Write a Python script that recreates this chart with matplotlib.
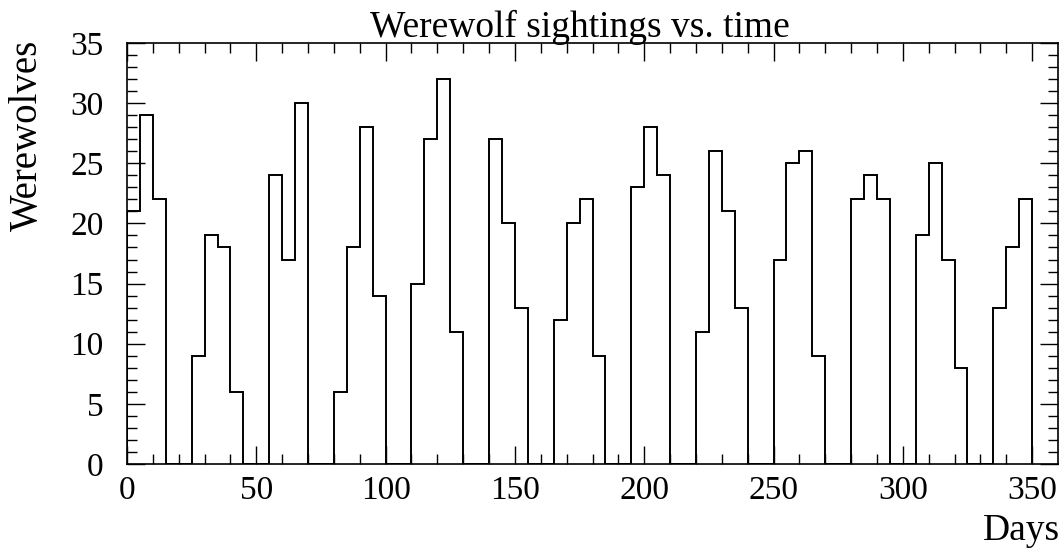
import matplotlib
matplotlib.use("Agg")
import matplotlib.pyplot as plt
import numpy as np

# Bin starts (days) and counts per 5-day bin
bin_width = 5
bin_starts = np.arange(0, 350, bin_width)
sightings = [21, 29, 22, 0, 0, 9, 19, 18, 6, 0,
             0, 24, 17, 30, 0, 0, 6, 18, 28, 14,
             0, 0, 15, 27, 32, 11, 0, 0, 27, 20,
             13, 0, 0, 12, 20, 22, 9, 0, 0, 23,
             28, 24, 0, 0, 11, 26, 21, 13, 0, 0,
             17, 25, 26, 9, 0, 0, 22, 24, 22, 0,
             0, 19, 25, 17, 8, 0, 0, 13, 18, 22]

plt.rcParams['font.family'] = ['Liberation Serif', 'DejaVu Serif']

fig = plt.figure(figsize=(10.63, 5.48), dpi=100)
ax = fig.add_axes([127 / 1063, 1 - 464 / 548, (1058 - 127) / 1063, (464 - 43) / 548])

edges = np.append(bin_starts, bin_starts[-1] + bin_width)
ax.stairs(sightings, edges, color='black', linewidth=1.4, baseline=0)

ax.set_xlim(0, 360)
ax.set_ylim(0, 35)
ax.set_xticks(np.arange(0, 351, 50))
ax.set_xticks(np.arange(0, 360, 10), minor=True)
ax.set_yticks(np.arange(0, 36, 5))
ax.set_yticks(np.arange(0, 36, 1), minor=True)

ax.tick_params(which='both', direction='in', top=True, right=True,
               labelsize=24, width=1, color='black')
ax.tick_params(which='major', length=13)
ax.tick_params(which='minor', length=7)
ax.tick_params(axis='x', which='major', pad=8)
ax.tick_params(axis='y', which='major', pad=17)
for s in ax.spines.values():
    s.set_linewidth(1.2)

# title sits a bit left of the axes centre in the original
fig.text(580 / 1063, 1 - 37 / 548, 'Werewolf sightings vs. time', fontsize=27,
         ha='center', va='baseline')
fig.text(1060 / 1063, 1 - 540 / 548, 'Days', fontsize=27, ha='right', va='baseline')
fig.text(27 / 1063, 1 - 40 / 548, 'Werewolves', fontsize=28, rotation=90,
         ha='center', va='top')

fig.savefig('out.png', dpi=100)
